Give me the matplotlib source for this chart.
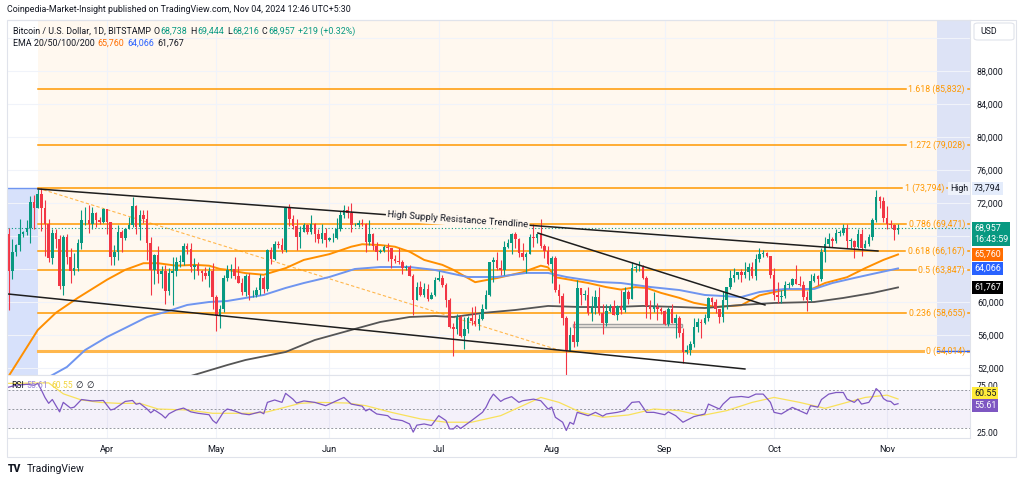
import pandas as pd
import numpy as np
import matplotlib
matplotlib.use("Agg")
import matplotlib.pyplot as plt
import matplotlib.dates as mdates
from matplotlib.patches import Rectangle, FancyBboxPatch

plt.rcParams['font.family'] = ['Roboto', 'DejaVu Sans']

# ---------------- data: BTC/USD daily, Bitstamp ----------------
dates = pd.date_range("2024-03-05", "2024-11-04", freq="D")

opens = [
    # Mar 5-31
    68300, 63800, 66100, 66900, 68300, 68500, 69000, 72100, 71450, 73070, 71400, 69400, 65300, 68400,
    67600, 61900, 67850, 65500, 63800, 64100, 67200, 69900, 69950, 69450, 70750, 69900, 69650,
    # Apr
    71300, 69700, 65500, 66000, 68500, 67800, 68900, 69300, 71600, 69100, 70600, 70000, 67100, 63900, 65700,
    63400, 63800, 61300, 63500, 63800, 64900, 64900, 66800, 66400, 64300, 64500, 63800, 63500, 63100, 63800,
    # May
    60600, 58300, 59100, 62900, 63900, 64000, 63200, 62300, 61200, 63100, 60800, 60800, 61500, 62900, 61600,
    66300, 65200, 67000, 66900, 66300, 71400, 70100, 69200, 67900, 68500, 69300, 68500, 69400, 68300, 67600, 68400,
    # Jun
    67500, 67700, 67800, 68800, 70600, 71100, 70800, 69300, 69300, 69600, 69500, 67300, 68200, 66800, 66000,
    66200, 66700, 66500, 65200, 65000, 64900, 64100, 64300, 63200, 60300, 61800, 60900, 61600, 60400, 60900,
    # Jul
    62700, 62900, 62100, 60200, 57000, 56700, 58200, 55900, 56700, 58000, 57700, 57300, 57900, 59200, 60800,
    64800, 65100, 64100, 63900, 66700, 67100, 68200, 67600, 65900, 65400, 65800, 67900, 67800, 68300, 66800, 66200,
    # Aug
    64600, 65300, 61500, 60700, 58100, 54000, 56000, 55100, 61700, 60900, 60900, 58700, 59400, 60600, 58700,
    57500, 58900, 59500, 58400, 59500, 59000, 61200, 60400, 64100, 64200, 64200, 62900, 59500, 59100, 59400, 59100,
    # Sep
    58900, 57300, 59100, 57500, 58000, 56200, 53900, 54200, 54900, 57000, 57600, 57400, 58100, 60500, 60000,
    59100, 58200, 60300, 61800, 62900, 63300, 63600, 63300, 63600, 64200, 63200, 65200, 65800, 65900, 65600,
    # Oct
    63300, 60800, 60600, 60700, 62100, 62100, 62800, 62200, 62100, 60600, 60300, 62500, 63200, 62800, 66000,
    67000, 67600, 67400, 68400, 68400, 69000, 67400, 67400, 66700, 68200, 66600, 67000, 67900, 69900, 72700, 72300,
    # Nov 1-4
    70200, 69500, 69300, 68738,
]
highs = [
    69000, 67600, 67000, 70100, 68600, 69900, 72800, 72950, 73650, 73794, 72400, 70000, 68900, 68900,
    68100, 68100, 68200, 66600, 65900, 67600, 71100, 71500, 71750, 71500, 70900, 70300, 71350,
    71300, 69700, 66900, 69300, 68700, 69000, 70300, 72700, 71750, 71100, 71200, 71200, 67900, 65800, 66800,
    64400, 64500, 64100, 65400, 65400, 65700, 67200, 67200, 67100, 65300, 64800, 63900, 64300, 64200, 64700,
    60800, 59600, 63300, 64500, 64600, 65500, 64400, 62900, 63400, 63500, 61400, 61800, 63400, 63100, 66400,
    66700, 67400, 67400, 67700, 71500, 71900, 70600, 70000, 69200, 69600, 69500, 70600, 69600, 68900, 69500, 69000,
    67900, 68400, 70200, 71000, 71700, 71600, 71950, 69600, 69900, 70100, 69600, 69900, 68400, 67300, 66400,
    66900, 67200, 66600, 65700, 66500, 65100, 64500, 64500, 63400, 62400, 62500, 62300, 62200, 61200, 63000,
    63800, 63300, 62300, 60500, 57500, 58500, 58400, 58200, 58300, 59400, 59500, 58500, 59800, 61400, 64900,
    65400, 66100, 65100, 67400, 67600, 68400, 68500, 67800, 67100, 66100, 68200, 69400, 68300, 70000, 67000, 66800,
    65600, 65600, 62200, 61100, 58300, 57000, 57700, 62700, 61700, 61400, 61800, 60700, 61500, 61800, 59800,
    59800, 59700, 60200, 59600, 61400, 61800, 61400, 64900, 64500, 65000, 64500, 63200, 60200, 61200, 59900, 59400,
    59000, 59400, 59800, 58500, 58300, 56900, 54800, 55300, 58100, 58000, 57900, 58600, 60600, 60600, 60400,
    59200, 61300, 61800, 63900, 64100, 63600, 64000, 64800, 64700, 64800, 65800, 66500, 66300, 66100, 65600,
    64100, 62400, 61500, 62500, 62400, 62900, 64500, 63200, 62500, 61300, 63400, 63500, 63300, 66500, 67900,
    68400, 67900, 68900, 68700, 69400, 69500, 67800, 67500, 68800, 68800, 67500, 68300, 70200, 73600, 72900, 72700,
    71600, 69900, 69400, 69444,
]
lows = [
    59000, 62800, 65600, 66200, 67900, 68100, 67200, 68800, 71350, 68600, 65600, 64800, 64550, 66600,
    61550, 60800, 64600, 62300, 63300, 63800, 66400, 69300, 68400, 68900, 69100, 69500, 69600,
    68200, 64500, 64500, 65100, 66000, 67500, 68800, 69100, 68200, 67500, 69600, 65100, 60800, 62200, 62300,
    61700, 59800, 60800, 59600, 63100, 64300, 64500, 65800, 63600, 62800, 63300, 62500, 62800, 61800, 59100,
    56500, 56900, 58800, 62600, 62900, 62800, 62300, 60900, 60700, 60200, 60600, 60600, 60800, 61100, 61300,
    64600, 65100, 66600, 65900, 66100, 69200, 68900, 66300, 66600, 68500, 68200, 68300, 67300, 67100, 67100, 66700,
    67400, 67300, 67600, 68600, 70200, 70200, 68500, 69200, 69100, 69200, 66100, 66900, 66300, 65100, 65900,
    66000, 65000, 64100, 64700, 64600, 63400, 63900, 63200, 58400, 60300, 60700, 60600, 60100, 60400, 60700,
    62500, 61800, 59400, 56800, 53500, 56100, 55800, 54300, 56300, 57200, 57100, 56600, 57800, 59100, 60700,
    62400, 63900, 63300, 63300, 66500, 65800, 66600, 65400, 65100, 63500, 65800, 66700, 67100, 66600, 65300, 64500,
    62300, 61200, 59900, 57200, 49000, 54000, 54600, 54700, 59600, 60300, 58400, 57700, 58500, 58400, 56100,
    57100, 58800, 58400, 57800, 58600, 58800, 59800, 60400, 63600, 63800, 62800, 58100, 57900, 58800, 57800, 58500,
    57200, 57100, 57400, 55600, 55700, 52600, 53700, 53600, 54600, 56400, 55600, 57300, 57700, 59500, 58700,
    57500, 57600, 59200, 61600, 62400, 62800, 62400, 62900, 62700, 62900, 62700, 64800, 65400, 65400, 62900,
    60200, 59900, 59900, 60500, 61700, 61900, 62200, 61900, 60300, 58900, 60100, 62400, 62100, 62500, 64800,
    66700, 66700, 67100, 68000, 68100, 66600, 66600, 65300, 66500, 65600, 66500, 66800, 67500, 69700, 71400, 69700,
    68800, 69000, 67500, 68216,
]
closes = [
    63800, 66100, 66900, 68300, 68500, 69000, 72100, 71450, 73070, 71400, 69400, 65300, 68400, 67600,
    61900, 67850, 65500, 63800, 64100, 67200, 69900, 69950, 69450, 70750, 69900, 69650, 71300,
    69700, 65500, 66000, 68500, 67800, 68900, 69300, 71600, 69100, 70600, 70000, 67100, 63900, 65700, 63400,
    63800, 61300, 63500, 63800, 64900, 64900, 66800, 66400, 64300, 64500, 63800, 63500, 63100, 63800, 60600,
    58300, 59100, 62900, 63900, 64000, 63200, 62300, 61200, 63100, 60800, 60800, 61500, 62900, 61600, 66300,
    65200, 67000, 66900, 66300, 71400, 70100, 69200, 67900, 68500, 69300, 68500, 69400, 68300, 67600, 68400, 67500,
    67700, 67800, 68800, 70600, 71100, 70800, 69300, 69300, 69600, 69500, 67300, 68200, 66800, 66000, 66200,
    66700, 66500, 65200, 65000, 64900, 64100, 64300, 63200, 60300, 61800, 60900, 61600, 60400, 60900, 62700,
    62900, 62100, 60200, 57000, 56700, 58200, 55900, 56700, 58000, 57700, 57300, 57900, 59200, 60800, 64800,
    65100, 64100, 63900, 66700, 67100, 68200, 67600, 65900, 65400, 65800, 67900, 67800, 68300, 66800, 66200, 64600,
    65300, 61500, 60700, 58100, 54000, 56000, 55100, 61700, 60900, 60900, 58700, 59400, 60600, 58700, 57500,
    58900, 59500, 58400, 59500, 59000, 61200, 60400, 64100, 64200, 64200, 62900, 59500, 59100, 59400, 59100, 58900,
    57300, 59100, 57500, 58000, 56200, 53900, 54200, 54900, 57000, 57600, 57400, 58100, 60500, 60000, 59100,
    58200, 60300, 61800, 62900, 63300, 63600, 63300, 63600, 64200, 63200, 65200, 65800, 65900, 65600, 63300,
    60800, 60600, 60700, 62100, 62100, 62800, 62200, 62100, 60600, 60300, 62500, 63200, 62800, 66000, 67000,
    67600, 67400, 68400, 68400, 69000, 67400, 67400, 66700, 68200, 66600, 67000, 67900, 69900, 72700, 72300, 70200,
    69500, 69300, 68700, 68957,
]

# EMA lines
ema50_dates = ["2024-03-05", "2024-03-13", "2024-03-18", "2024-03-24", "2024-04-01", "2024-04-06", "2024-04-11",
               "2024-04-15", "2024-04-20", "2024-04-25", "2024-04-29", "2024-05-02", "2024-05-04", "2024-05-09",
               "2024-05-14", "2024-05-20", "2024-05-25", "2024-06-01", "2024-06-07", "2024-06-10", "2024-06-15",
               "2024-06-19", "2024-06-23", "2024-06-27", "2024-07-02", "2024-07-05", "2024-07-11", "2024-07-17",
               "2024-07-24", "2024-07-29", "2024-07-31", "2024-08-02", "2024-08-06", "2024-08-11", "2024-08-16",
               "2024-08-20", "2024-08-24", "2024-08-27", "2024-08-31", "2024-09-05", "2024-09-09", "2024-09-15",
               "2024-09-22", "2024-09-27", "2024-10-04", "2024-10-11", "2024-10-15", "2024-10-21", "2024-10-26",
               "2024-10-31", "2024-11-04"]
ema50 = [51000, 56600, 58700, 60500, 62700, 63900, 64700, 64700, 64400, 64500, 64400, 64000, 63900, 63500,
         63300, 64100, 65100, 65800, 66700, 67000, 66900, 66700, 66100, 65100, 64500, 63900, 62400, 62900,
         63600, 64400, 64200, 63000, 62700, 62300, 61800, 61500, 61800, 61700, 61100, 60500, 59900, 59400,
         59600, 60800, 61500, 61500, 62300, 63000, 64100, 65100, 65760]

ema100_dates = ["2024-03-16", "2024-03-21", "2024-03-26", "2024-04-01", "2024-04-06", "2024-04-12", "2024-04-17",
                "2024-04-23", "2024-04-29", "2024-05-04", "2024-05-09", "2024-05-14", "2024-05-20", "2024-05-25",
                "2024-06-01", "2024-06-08", "2024-06-15", "2024-06-23", "2024-06-30", "2024-07-05", "2024-07-09",
                "2024-07-17", "2024-07-25", "2024-07-31", "2024-08-05", "2024-08-14", "2024-08-20", "2024-08-28",
                "2024-09-05", "2024-09-12", "2024-09-22", "2024-09-27", "2024-10-04", "2024-10-12", "2024-10-17",
                "2024-10-23", "2024-10-28", "2024-11-04"]
ema100 = [50900, 52120, 54180, 55760, 56850, 58180, 58790, 59640, 60000, 60120, 60490, 60850, 61700, 62300,
          63030, 64000, 64240, 64240, 63880, 63400, 63030, 63030, 63520, 63520, 63030, 62420, 62300, 61820,
          61450, 60850, 60600, 61210, 61580, 61580, 62300, 62910, 63400, 64066]

ema200_dates = ["2024-04-23", "2024-05-04", "2024-05-09", "2024-05-20", "2024-05-28", "2024-06-07", "2024-06-15",
                "2024-06-23", "2024-06-30", "2024-07-05", "2024-07-13", "2024-07-22", "2024-07-31", "2024-08-09",
                "2024-08-18", "2024-08-26", "2024-09-05", "2024-09-12", "2024-09-22", "2024-10-01", "2024-10-12",
                "2024-10-20", "2024-10-28", "2024-11-04"]
ema200 = [50900, 52360, 52970, 53940, 55390, 56610, 57580, 58180, 58300, 58180, 58670, 59030, 59520, 59390,
          59390, 59520, 59390, 59270, 59640, 59880, 60000, 60490, 61090, 61767]

rsi_dates = ["03-05", "03-07", "03-10", "03-12", "03-13", "03-14", "03-15", "03-16", "03-17", "03-19",
             "03-20", "03-22", "03-23", "03-25", "03-28", "03-31", "04-02", "04-03", "04-06", "04-08",
             "04-09", "04-10", "04-12", "04-13", "04-14", "04-16", "04-17", "04-18", "04-20", "04-22",
             "04-24", "04-26", "04-29", "04-30", "05-01", "05-03", "05-04", "05-06", "05-08", "05-10",
             "05-13", "05-14", "05-15", "05-17", "05-19", "05-20", "05-22", "05-23", "05-25", "05-28",
             "05-31", "06-03", "06-05", "06-07", "06-10", "06-11", "06-12", "06-14", "06-17", "06-18",
             "06-21", "06-23", "06-24", "06-25", "06-27", "06-29", "07-01", "07-03", "07-04", "07-05",
             "07-06", "07-07", "07-10", "07-13", "07-14", "07-15", "07-16", "07-18", "07-19", "07-21",
             "07-23", "07-24", "07-27", "07-29", "07-31", "08-01", "08-02", "08-04", "08-05", "08-06",
             "08-07", "08-08", "08-11", "08-13", "08-15", "08-16", "08-19", "08-21", "08-23", "08-25",
             "08-27", "08-29", "09-01", "09-02", "09-04", "09-06", "09-09", "09-12", "09-13", "09-16",
             "09-17", "09-19", "09-22", "09-24", "09-26", "09-28", "09-30", "10-01", "10-03", "10-06",
             "10-08", "10-10", "10-11", "10-13", "10-14", "10-16", "10-18", "10-20", "10-21", "10-23",
             "10-24", "10-25", "10-27", "10-28", "10-29", "10-30", "10-31", "11-01", "11-02", "11-03",
             "11-04"]
rsi_values = [73, 75, 76, 75, 77, 70, 62, 56, 60, 47,
              57, 51, 52, 60, 58.5, 59, 49, 50, 58, 59,
              55, 56, 50, 46, 49, 44, 40.5, 45, 49, 51,
              47, 45.5, 44, 38, 35, 47, 50, 48, 45, 44,
              47, 45, 57, 59.5, 57, 66.5, 60.4, 56.3, 58.5, 57,
              53.5, 58.7, 62.2, 55.2, 53, 48, 50, 44.8, 43, 39.6,
              37.8, 34.3, 25.7, 33, 34.3, 32.6, 43, 37.8, 29.1, 29,
              32.6, 29.5, 37.8, 46.5, 52, 60, 65.7, 58, 60.4, 63,
              57, 58.7, 60.4, 58.7, 50, 52, 41.3, 36.1, 27.4, 36,
              34, 46.5, 43, 46.5, 42.5, 44.8, 46.5, 48.3, 57, 57.7,
              46.5, 46.5, 44, 47, 43, 36.1, 42, 44.8, 55.2, 50,
              55.2, 62.2, 63.2, 62.2, 65.7, 65.7, 57, 46.5, 44.8, 51.7,
              48.3, 44.8, 53.5, 52, 60, 65.7, 67.4, 67.4, 60.4, 57,
              60.4, 55.2, 57, 63, 71.5, 68, 61, 58.5, 58, 54.5,
              55.61]

rsi_ma_dates = ["03-05", "03-16", "03-20", "03-25", "03-30", "04-04", "04-10", "04-15", "04-23", "04-30",
                "05-05", "05-11", "05-15", "05-24", "05-29", "06-06", "06-11", "06-18", "06-26", "07-03",
                "07-10", "07-18", "07-23", "07-29", "08-03", "08-09", "08-15", "08-22", "08-29", "09-05",
                "09-11", "09-18", "09-25", "10-01", "10-08", "10-15", "10-21", "10-26", "11-01", "11-04"]
rsi_ma_values = [77, 77.5, 66, 59.5, 57, 56, 56, 50, 49, 45.5,
                 45.5, 45.5, 47, 56, 57, 56.3, 53.5, 46.5, 39.6, 36.1,
                 36.1, 43, 51.7, 62.2, 57, 46.5, 41.3, 43.7, 50, 48.3,
                 43, 48.3, 57, 62.2, 57, 50.7, 57, 62.2, 64.6, 60.55]

# Fibonacci retracement
fib_ratios = [1.618, 1.272, 1, 0.786, 0.618, 0.5, 0.236, 0]
fib_prices = [85832, 79028, 73794, 69471, 66167, 63847, 58655, 54014]
fib_start = "2024-03-13 02:00"
fib_end = "2024-08-04 02:00"

# drawn trend lines
trend_high = (["2024-03-13 02:00", "2024-10-29 12:00"], [73700, 66180])
trend_low = (["2024-03-04 20:00", "2024-09-23 00:00"], [60970, 51880])
trend_mid = (["2024-07-28 05:00", "2024-09-28 12:00"], [68360, 59640])
range_box = ("2024-08-06 19:00", "2024-09-05 18:00", 56970, 57330)

price_ticks = [52000, 56000, 60000, 64000, 68000, 72000, 76000, 80000, 84000, 88000, 92000]
price_tick_labels = ["52,000", "56,000", "60,000", "", "", "72,000", "76,000", "80,000", "84,000", "88,000", ""]
month_starts = ["2024-04-01", "2024-05-01", "2024-06-01", "2024-07-01", "2024-08-01", "2024-09-01",
                "2024-10-01", "2024-11-01"]
month_labels = ["Apr", "May", "Jun", "Jul", "Aug", "Sep", "Oct", "Nov"]

last_close = 68957

# ---------------- figure ----------------
W, H = 1024, 482
fig = plt.figure(figsize=(W / 100, H / 100), dpi=100, facecolor="white")


def px_box(l, t, r, b):
    return [l / W, 1 - b / H, (r - l) / W, (b - t) / H]


def dn(s):
    return mdates.date2num(pd.to_datetime(s))


TXT = "#131722"
GREEN = "#089981"
RED = "#F23645"
ORANGE = "#FF9800"
GRID = "#F0F3FA"
BORDER = "#E0E3EB"

ax = fig.add_axes(px_box(8, 20, 970, 375))
rax = fig.add_axes(px_box(8, 375, 970, 438), sharex=ax)

x_left, x_right = dn("2024-03-04 20:10"), dn("2024-11-23 18:00")
y_bot, y_top = 51150, 94180
ax.set_xlim(x_left, x_right)
ax.set_ylim(y_bot, y_top)

# backgrounds
fs, fe = dn(fib_start), dn(fib_end)
ax.fill_between([fs, x_right], fib_prices[-1], y_top, color="#FFF8EF", lw=0, zorder=0.1)
ax.add_patch(Rectangle((x_left, y_bot), fs - x_left, fib_prices[2] - y_bot, fc="#D7E1FB", ec="none", zorder=0.2))
ax.plot([x_left, fs], [fib_prices[2]] * 2, color="#6F95F0", lw=1, zorder=0.3)
band_x = dn("2024-11-14 17:00")
ax.add_patch(Rectangle((band_x, fib_prices[-1]), x_right - band_x, y_top - fib_prices[-1],
                       fc="#DDE3F6", ec="none", zorder=0.2))
ax.plot([band_x, x_right], [fib_prices[-1]] * 2, color="#2962FF", lw=1, zorder=2.5)

ax.set_axisbelow(True)
ax.grid(True, color=GRID, lw=0.8)
rax.set_axisbelow(True)
rax.grid(True, axis="x", color=GRID, lw=0.8)

# fib diagonal
ax.plot([fs, fe], [fib_prices[2], fib_prices[-1]], color="#FFB74D", lw=0.8, ls=(0, (3, 2)), zorder=1.5)

# EMAs
ax.plot(dn(ema50_dates), ema50, color="#FF8F00", lw=1.4, zorder=3)
ax.plot(dn(ema100_dates), ema100, color="#6F95F0", lw=1.4, zorder=3)
ax.plot(dn(ema200_dates), ema200, color="#555555", lw=1.3, zorder=3)

# candles
x = mdates.date2num(dates)
cols = [GREEN if c >= o else RED for o, c in zip(opens, closes)]
ax.vlines(x, lows, highs, colors=cols, lw=0.8, zorder=4)
bottoms = [min(o, c) for o, c in zip(opens, closes)]
heights = [max(abs(c - o), 80) for o, c in zip(opens, closes)]
ax.bar(x, heights, bottom=bottoms, width=0.7, color=cols, lw=0, zorder=4)

# current price line
ax.axhline(last_close, color=GREEN, lw=0.8, ls=(0, (1, 2)), zorder=3.5)

# trend lines
for xs, ys in (trend_high, trend_low, trend_mid):
    ax.plot(dn(xs), ys, color="#1E1E1E", lw=1.1, zorder=5)

rb0, rb1 = dn(range_box[0]), dn(range_box[1])
ax.add_patch(Rectangle((rb0, range_box[2]), rb1 - rb0, range_box[3] - range_box[2],
                       fc=(0.6, 0.6, 0.6, 0.15), ec="#A0A0A0", lw=1, zorder=3.6))

# trendline label, centred on the line
tx = dn("2024-07-06 05:00")
ty = np.interp(tx, dn(trend_high[0]), trend_high[1])
ax.text(tx, ty, "High Supply Resistance Trendline", fontsize=6.8, color=TXT, ha="center", va="center",
        rotation=-4.2, rotation_mode="anchor", zorder=6,
        bbox=dict(boxstyle="square,pad=0.15", fc="#FFF8EF", ec="none"))

# fib labels + level lines broken around labels
fib_texts = []
for r, p in zip(fib_ratios, fib_prices):
    xr = 944 if r == 1 else 965   # level-1 label stops short of the "High" marker
    t = ax.text((xr - 8) / 962, p, f"{r:g} ({p:,})", transform=ax.get_yaxis_transform(),
                ha="right", va="center", fontsize=6.3, color=ORANGE, zorder=6)
    fib_texts.append(t)

# axis styling
ax.yaxis.tick_right()
ax.set_yticks(price_ticks)
ax.set_yticklabels(price_tick_labels)
ax.tick_params(axis="y", length=0, pad=5, labelsize=6.4, labelcolor=TXT)
ax.tick_params(axis="x", length=0, labelbottom=False)
rax.set_xticks(dn(month_starts))
rax.set_xticklabels(month_labels)
rax.tick_params(axis="x", length=0, pad=5, labelsize=6.6, labelcolor=TXT)
rax.set_ylim(19.5, 85.8)
rax.yaxis.tick_right()
rax.set_yticks([25, 75])
rax.set_yticklabels(["25.00", "75.00"])
rax.tick_params(axis="y", length=0, pad=5, labelsize=6.2, labelcolor=TXT)
for a in (ax, rax):
    for s in a.spines.values():
        s.set_color(BORDER)
        s.set_linewidth(0.8)
    a.spines["left"].set_visible(False)

# RSI pane
rax.axhspan(30, 70, color="#7E57C2", alpha=0.08, lw=0)
for lvl in (70, 50, 30):
    rax.axhline(lvl, color="#9598A1", lw=0.7, ls=(0, (2, 2)))
rax.plot(dn(["2024-" + d for d in rsi_ma_dates]), rsi_ma_values, color="#F9E15A", lw=0.9)
rax.plot(dn(["2024-" + d for d in rsi_dates]), rsi_values, color="#7E57C2", lw=0.9)

fig.canvas.draw()
inv = ax.transData.inverted()
for t, p, r in zip(fib_texts, fib_prices, fib_ratios):
    bb = t.get_window_extent()
    xa = inv.transform((bb.x0 - 3, 0))[0]
    xb = inv.transform((bb.x1 + 3, 0))[0]
    lw, c = (2.2, "#FFB74D") if r == 0 else (1.1, ORANGE)
    ax.plot([fs, xa], [p, p], color=c, lw=lw, zorder=2)
    ax.plot([xb, x_right], [p, p], color=c, lw=lw, zorder=2)


# price-scale tags
def tag(a, yv, s, fc, tc, va="center"):
    a.text(1 + 4 / 962, yv, s, transform=a.get_yaxis_transform(), ha="left", va=va, fontsize=6.4,
           color=tc, clip_on=False, zorder=10, linespacing=1.3,
           bbox=dict(boxstyle="square,pad=0.22", fc=fc, ec="none"))


tag(ax, fib_prices[2], "73,794", "#E4ECFB", TXT)
ax.text((968 - 8) / 962, fib_prices[2], "High", transform=ax.get_yaxis_transform(), ha="right", va="center",
        fontsize=6.4, color=TXT, zorder=9, bbox=dict(boxstyle="square,pad=0.22", fc="#EEF2FB", ec="none"))
tag(ax, last_close + 500, "68,957\n16:43:59", GREEN, "white", va="top")
tag(ax, 65760, "65,760", "#FF6D00", "white")
tag(ax, 64066, "64,066", "#2962FF", "white")
tag(ax, 61767, "61,767", "#000000", "white")
# RSI tags are stacked apart as the price scale does
tag(rax, 66.0, "60.55", "#FFEB3B", TXT)
tag(rax, 53.4, "55.61", "#7E57C2", "white")

# frame and USD box
fig.patches.append(Rectangle((7 / W, 1 - 457 / H), 1009 / W, 437 / H, transform=fig.transFigure,
                             fill=False, ec=BORDER, lw=0.8))
fig.patches.append(FancyBboxPatch((974 / W, 1 - 40 / H), 40 / W, 17 / H, transform=fig.transFigure,
                                  boxstyle="round,pad=0,rounding_size=0.004", fc="white", ec=BORDER, lw=0.8,
                                  zorder=5))
fig.text(980 / W, 1 - 31.5 / H, "USD", fontsize=6.3, color=TXT, va="center", zorder=6)

# header / legends
fig.text(7 / W, 1 - 10 / H, "Coinpedia-Market-Insight published on TradingView.com, Nov 04, 2024 12:46 UTC+5:30",
         fontsize=6.4, color=TXT, va="center")

renderer = fig.canvas.get_renderer()


def chain(x0, y0, parts, size=6.4, gap=3):
    xx = x0
    for s, c in parts:
        t = fig.text(xx / W, 1 - y0 / H, s, fontsize=size, color=c, va="center", ha="left", zorder=8)
        xx += t.get_window_extent(renderer).width + (gap if s.strip() not in ("O", "H", "L", "C") else 0.5)


chain(13, 31, [("Bitcoin / U.S. Dollar, 1D, BITSTAMP", TXT), ("O", TXT), ("68,738", GREEN), ("H", TXT),
               ("69,444", GREEN), ("L", TXT), ("68,216", GREEN), ("C", TXT), ("68,957", GREEN),
               ("+219 (+0.32%)", GREEN)])
chain(13, 43, [("EMA 20/50/100/200", TXT), ("65,760", "#FF6D00"), ("64,066", "#2962FF"), ("61,767", TXT)])
chain(11, 386, [("RSI", TXT), ("55.61", "#9C86D6"), ("60.55", "#F2D43C"), ("\u2205", TXT), ("\u2205", TXT)],
      size=6.2)

fig.text(8 / W, 1 - 469 / H, "TV", fontsize=7.5, fontweight="heavy", color=TXT, va="center")
fig.text(27 / W, 1 - 469 / H, "TradingView", fontsize=7.5, color=TXT, va="center")

fig.savefig("out.png", dpi=100, facecolor="white")
